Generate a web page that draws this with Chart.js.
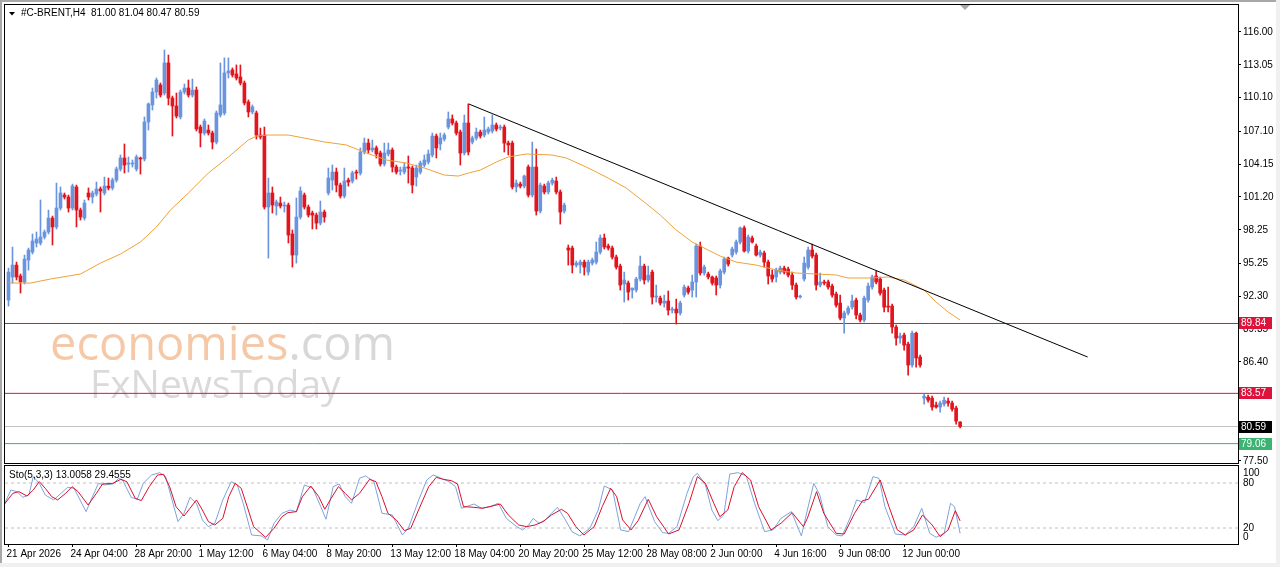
<!DOCTYPE html>
<html>
<head>
<meta charset="utf-8">
<script src="https://cdn.jsdelivr.net/npm/chart.js@4.4.1/dist/chart.umd.min.js"></script>
<style>
  html, body { margin: 0; padding: 0; background: #f0f0f0; }
  #wrap { position: relative; width: 1276px; height: 563px; background: #fff; overflow: hidden; }
  #edge { position: absolute; left: 0; top: 0; width: 1276px; height: 563px; box-sizing: border-box;
          border-top: 2px solid #a8a8a8; border-left: 2px solid #a8a8a8; pointer-events: none; }
  #main { position: absolute; left: 0; top: 0; }
  #sto { position: absolute; left: 0; top: 460px; }
</style>
</head>
<body>
<div id="wrap">
  <canvas id="main" width="1280" height="466"></canvas>
  <canvas id="sto" width="1280" height="107"></canvas>
  <div id="edge"></div>
</div>
<script>
// H4 candles, oldest first
const openP = [
  91.94, 94.01, 95.08, 94.10, 93.56, 95.53, 96.25, 97.06, 97.06, 97.60,
  98.05, 99.30, 98.50, 100.20, 101.37, 101.19, 100.20, 102.09, 100.02, 99.30,
  101.55, 101.19, 101.46, 101.91, 101.55, 102.17, 102.00, 102.71, 103.70, 104.69,
  104.15, 104.15, 103.70, 104.69, 104.60, 107.92, 109.45, 110.61, 111.24, 110.52,
  113.22, 110.07, 109.36, 108.37, 110.61, 110.97, 110.34, 110.79, 107.47, 106.93,
  107.20, 106.93, 106.12, 108.55, 108.73, 112.32, 112.59, 112.23, 111.96, 111.42,
  109.72, 108.82, 108.73, 106.75, 106.75, 100.29, 101.55, 100.38, 100.65, 100.38,
  100.47, 97.87, 95.98, 99.39, 101.37, 100.29, 99.75, 99.57, 98.85, 99.84,
  101.55, 102.71, 103.43, 102.26, 101.28, 102.71, 102.62, 103.43, 103.34, 105.23,
  106.03, 105.41, 105.59, 105.14, 104.15, 105.05, 105.41, 103.88, 103.52, 103.43,
  103.88, 103.79, 102.98, 103.43, 104.06, 104.33, 104.96, 106.66, 105.95, 106.39,
  107.47, 108.19, 107.83, 107.02, 105.14, 107.83, 106.12, 106.48, 107.02, 106.75,
  107.02, 107.11, 107.65, 107.38, 107.47, 106.03, 106.03, 102.09, 102.35, 102.17,
  103.88, 101.37, 103.88, 99.93, 102.17, 101.64, 102.44, 102.62, 101.64, 99.93,
  96.61, 96.61, 95.08, 95.08, 95.35, 94.45, 95.26, 95.35, 96.25, 97.51,
  96.79, 96.61, 95.80, 94.99, 93.38, 93.47, 92.84, 92.84, 93.83, 94.99,
  93.74, 94.45, 92.21, 92.12, 91.67, 91.85, 91.04, 91.13, 90.78, 92.39,
  93.02, 92.84, 93.56, 96.79, 94.37, 94.28, 94.01, 93.92, 93.29, 94.45,
  95.71, 95.98, 96.25, 97.15, 98.41, 96.34, 97.51, 96.79, 95.98, 96.16,
  95.35, 94.19, 94.01, 94.45, 94.81, 94.72, 94.18, 93.29, 92.21, 93.83,
  94.90, 96.43, 95.98, 93.29, 93.56, 93.56, 93.20, 92.48, 91.67, 90.33,
  90.78, 91.31, 91.94, 90.60, 90.15, 91.94, 93.11, 94.10, 93.83, 92.84,
  91.40, 91.40, 89.52, 88.53, 88.80, 87.99, 86.11, 88.97, 86.83, 83.14,
  83.23, 83.14, 82.52, 82.34, 82.61, 82.87, 82.70, 82.25, 81.00
];
const highP = [
  94.81, 96.70, 95.35, 94.28, 95.98, 96.61, 97.87, 98.05, 100.92, 98.23,
  100.02, 99.48, 102.44, 102.09, 101.55, 101.37, 102.35, 102.26, 100.20, 100.92,
  102.00, 101.73, 102.53, 102.09, 102.98, 102.89, 102.89, 103.88, 104.96, 105.95,
  104.78, 104.51, 104.96, 104.78, 108.37, 109.63, 110.97, 111.87, 111.42, 114.38,
  113.93, 110.25, 110.52, 110.79, 111.33, 111.69, 111.78, 111.06, 107.65, 108.19,
  107.65, 107.11, 108.91, 113.22, 113.67, 113.67, 112.77, 113.04, 113.04, 111.60,
  109.90, 109.45, 108.91, 107.38, 107.47, 102.89, 102.09, 100.92, 101.19, 100.74,
  100.65, 98.23, 101.10, 102.09, 101.55, 100.47, 99.93, 99.75, 100.83, 100.02,
  103.79, 104.06, 103.79, 102.44, 103.79, 102.89, 103.52, 103.61, 105.59, 106.48,
  106.39, 106.30, 105.77, 105.32, 106.03, 106.03, 105.59, 104.06, 103.88, 104.24,
  104.87, 103.97, 104.06, 104.42, 104.96, 105.41, 106.93, 106.84, 106.93, 106.93,
  108.82, 108.55, 108.01, 107.20, 108.55, 109.54, 106.66, 107.38, 107.20, 108.37,
  107.47, 108.55, 107.83, 107.65, 107.65, 106.21, 106.21, 102.71, 102.53, 103.16,
  104.06, 106.12, 105.50, 102.44, 102.35, 102.62, 102.89, 102.98, 101.82, 100.65,
  96.88, 96.79, 95.44, 95.53, 95.53, 95.53, 95.71, 97.15, 97.78, 97.87,
  96.97, 96.79, 95.98, 95.17, 94.45, 93.65, 93.02, 93.99, 95.89, 95.17,
  94.99, 94.63, 93.29, 92.30, 92.39, 92.75, 91.31, 92.03, 91.85, 93.29,
  93.20, 94.18, 96.97, 97.15, 95.08, 94.45, 94.10, 94.10, 94.72, 95.80,
  95.80, 96.70, 97.33, 98.50, 98.59, 97.78, 97.69, 96.97, 96.43, 96.34,
  95.53, 94.63, 94.81, 94.99, 94.99, 94.90, 94.45, 93.47, 92.39, 95.80,
  96.70, 96.97, 96.16, 94.37, 93.74, 93.74, 93.38, 92.66, 92.39, 90.96,
  91.40, 92.39, 92.12, 90.78, 92.30, 93.47, 94.18, 94.54, 94.01, 93.02,
  93.11, 91.58, 89.70, 88.97, 88.97, 88.17, 89.16, 89.07, 87.00, 83.50,
  83.41, 83.32, 82.78, 82.87, 83.23, 83.14, 82.87, 82.43, 81.04
];
const lowP = [
  91.40, 93.47, 93.74, 92.57, 93.38, 94.63, 96.07, 96.70, 96.88, 97.42,
  97.87, 96.88, 98.32, 100.02, 101.01, 99.84, 100.02, 98.50, 99.12, 99.12,
  100.92, 100.65, 101.28, 99.84, 101.37, 101.82, 101.82, 102.53, 103.52, 103.34,
  103.43, 103.88, 103.52, 103.25, 104.42, 107.20, 109.00, 110.07, 110.16, 110.34,
  109.45, 106.66, 108.28, 108.19, 110.43, 110.16, 110.16, 107.11, 105.68, 106.75,
  106.75, 105.50, 105.95, 108.37, 108.55, 111.87, 111.96, 111.69, 111.24, 109.45,
  108.37, 108.64, 106.39, 106.39, 100.11, 95.71, 99.75, 99.57, 100.20, 99.84,
  97.06, 94.90, 95.26, 99.21, 100.11, 99.39, 98.32, 98.32, 98.68, 98.94,
  101.37, 101.82, 101.64, 101.10, 101.10, 102.17, 102.44, 102.80, 103.16, 105.05,
  105.14, 105.23, 104.69, 103.97, 103.97, 104.87, 103.43, 103.25, 103.16, 103.25,
  102.44, 101.55, 102.17, 103.25, 103.88, 104.15, 104.78, 104.69, 105.41, 106.21,
  107.29, 107.65, 106.75, 104.06, 104.96, 104.96, 105.95, 106.30, 106.48, 106.57,
  106.84, 106.93, 107.11, 107.20, 105.23, 104.96, 101.91, 101.64, 102.00, 102.00,
  101.19, 101.19, 99.57, 99.75, 101.46, 101.46, 102.26, 101.46, 98.76, 99.75,
  95.08, 94.37, 94.90, 94.37, 94.18, 94.18, 95.08, 95.17, 96.07, 96.52,
  96.43, 95.62, 94.72, 92.84, 91.76, 91.94, 92.12, 92.66, 93.65, 93.38,
  93.56, 91.58, 91.76, 91.49, 91.31, 90.60, 90.78, 89.79, 90.60, 92.21,
  92.48, 92.21, 92.21, 94.18, 94.18, 93.83, 93.29, 92.39, 93.02, 94.28,
  94.99, 95.80, 96.07, 96.97, 96.25, 96.16, 97.06, 95.89, 95.80, 94.90,
  93.38, 93.56, 93.56, 94.28, 94.28, 94.01, 92.89, 92.03, 92.12, 93.65,
  94.72, 95.71, 92.84, 93.11, 93.29, 92.93, 92.21, 91.31, 90.15, 88.97,
  90.60, 91.13, 90.24, 89.97, 89.97, 91.76, 92.93, 93.38, 92.39, 90.87,
  90.87, 88.97, 87.90, 88.08, 87.45, 85.21, 85.93, 85.93, 85.93, 82.61,
  82.78, 82.07, 82.25, 81.89, 82.43, 82.43, 81.98, 80.81, 80.47
];
const closeP = [
  94.45, 95.08, 94.01, 93.56, 95.62, 96.43, 97.24, 97.42, 97.60, 98.05,
  99.30, 98.50, 100.20, 101.55, 101.19, 100.20, 102.17, 100.02, 99.39, 100.65,
  101.19, 101.55, 101.91, 101.73, 102.17, 102.00, 102.71, 103.70, 104.69, 104.06,
  104.24, 104.24, 104.78, 104.60, 107.92, 109.54, 110.61, 111.69, 110.34, 113.22,
  110.07, 109.36, 108.46, 110.61, 110.97, 110.34, 110.79, 107.29, 106.93, 108.01,
  106.93, 106.12, 108.73, 109.45, 112.32, 112.50, 112.14, 111.87, 111.42, 109.63,
  108.82, 109.27, 106.75, 106.57, 100.29, 101.55, 100.47, 100.74, 100.38, 100.47,
  97.78, 95.98, 99.39, 101.73, 100.29, 99.57, 99.57, 98.85, 99.84, 99.39,
  102.89, 103.43, 102.26, 101.28, 102.62, 102.53, 103.34, 103.34, 105.23, 106.03,
  105.41, 105.59, 105.05, 104.15, 105.14, 105.41, 103.88, 103.43, 103.61, 103.88,
  103.79, 102.26, 103.79, 104.24, 104.51, 105.05, 106.66, 105.59, 106.48, 106.75,
  108.19, 107.83, 106.93, 105.14, 107.83, 105.23, 106.48, 107.02, 106.66, 107.20,
  107.29, 107.65, 107.29, 107.47, 106.03, 105.86, 102.09, 102.44, 102.17, 103.07,
  101.37, 103.88, 99.93, 102.26, 101.64, 102.44, 102.71, 101.64, 99.84, 100.47,
  96.43, 95.08, 95.26, 95.35, 94.90, 95.35, 95.53, 96.25, 97.51, 96.70,
  96.61, 95.80, 94.90, 93.29, 93.74, 92.66, 93.02, 93.83, 94.99, 93.74,
  94.18, 92.21, 92.30, 91.67, 91.85, 91.04, 91.13, 90.78, 91.67, 93.11,
  92.66, 93.56, 96.79, 94.37, 94.90, 94.01, 93.47, 93.29, 94.54, 95.62,
  95.17, 96.52, 97.15, 98.41, 96.34, 97.60, 97.15, 95.98, 96.25, 95.35,
  94.10, 93.83, 94.63, 94.81, 94.45, 94.18, 93.29, 92.21, 92.30, 95.26,
  96.43, 95.89, 93.29, 93.56, 93.47, 93.11, 92.39, 91.49, 90.33, 90.78,
  91.22, 91.85, 90.60, 90.15, 92.12, 93.20, 94.01, 93.56, 92.57, 91.31,
  91.31, 89.52, 88.53, 88.71, 87.90, 86.11, 88.97, 86.74, 86.11, 83.32,
  82.96, 82.34, 82.34, 82.70, 82.96, 82.70, 82.16, 81.08, 80.59
];

// moving average: [bar index, price]
const maLine = [
  [0, 93.47], [5.5, 93.47], [10.5, 93.83], [18, 94.28], [23, 95.26], [28, 96.07], [33, 97.15],
  [37, 98.50], [40.5, 100.02], [45, 101.55], [50, 103.34], [55, 104.78], [60, 106.31], [62, 106.66],
  [65, 106.75], [70, 106.75], [74, 106.48], [79, 106.13], [84.5, 105.86], [89.5, 105.14],
  [94.5, 104.51], [99.5, 104.24], [104, 103.79], [109, 103.16], [112.5, 103.07], [115, 103.34],
  [118, 103.61], [122, 104.33], [125, 104.78], [129.5, 105.05], [136, 104.96], [139.5, 104.69],
  [144.5, 103.88], [150, 102.89], [154.5, 101.99], [159, 100.74], [163, 99.57], [167, 98.23],
  [171, 97.15], [175, 96.43], [178, 95.89], [182, 95.35], [187, 95.08], [192, 94.64], [197, 94.37],
  [202, 94.28], [207, 94.19], [210, 93.92], [215, 93.92], [220, 94.01], [224, 93.74], [229, 92.84],
  [232, 91.76], [235, 90.87], [238, 90.15]
];

// descending trend line: [bar index, price]
const trendLine = [[115.1, 109.54], [269.9, 86.83]];

// horizontal levels
const levelValues = [89.84, 83.57, 80.59, 79.06];
const levelLabels = ['89.84', '83.57', '80.59', '79.06'];
const levelColors = ['#dc143c', '#dc143c', '#c0c0c0', '#3cb371'];
const levelBoxColors = ['#dc143c', '#dc143c', '#000000', '#3cb371'];

const priceTicks = [116.00, 113.05, 110.10, 107.10, 104.15, 101.20, 98.25, 95.25, 92.30, 89.35, 86.40, 77.50];

// Stochastic(5,3,3): [bar index, value]
const stochK = [
  [-1, 52], [0.6, 70.7], [2.1, 68.5], [3.6, 60.9], [5.1, 64.0], [6.2, 88.5], [7.7, 79.6], [9.2, 64.0],
  [11.3, 57.4], [13.3, 67.1], [14.8, 74.3], [16.4, 72.9], [19.4, 41.8], [21.0, 61.8], [22.5, 79.6],
  [24.0, 77.4], [26.1, 78.7], [27.6, 86.3], [28.6, 83.1], [30.7, 60.9], [32.2, 58.3], [33.7, 79.6],
  [35.8, 90.7], [37.8, 93.8], [39.3, 88.5], [40.9, 57.4], [42.4, 28.5], [43.9, 39.6], [45.4, 60.9],
  [47.0, 52.9], [48.5, 30.7], [50.0, 21.8], [51.6, 26.3], [53.6, 57.4], [55.7, 81.8], [57.2, 77.4],
  [58.7, 52.9], [60.8, 10.7], [63.3, 9.4], [64.8, 4.0], [66.4, 26.3], [68.4, 39.6], [70.4, 44.0],
  [72.0, 41.8], [74.0, 77.4], [76.1, 72.9], [78.1, 48.5], [79.4, 31.6], [81.2, 75.1], [82.7, 78.7],
  [84.2, 61.8], [85.8, 52.9], [87.8, 86.3], [89.3, 89.4], [91.4, 81.8], [93.4, 39.6], [96.0, 37.4],
  [98.5, 10.7], [100.0, 19.6], [102.6, 57.4], [104.6, 84.0], [106.2, 90.7], [108.2, 86.3],
  [110.2, 81.8], [111.8, 75.1], [113.3, 46.3], [116.4, 52.0], [118.4, 46.3], [120.4, 48.5],
  [122.5, 52.9], [124.5, 32.9], [127.1, 21.8], [128.6, 17.4], [130.1, 24.0], [131.2, 32.9],
  [132.7, 26.3], [134.2, 30.7], [135.8, 39.6], [137.3, 47.6], [139.3, 30.7], [140.9, 15.2],
  [142.9, 9.4], [145.4, 19.6], [147.5, 44.0], [149.0, 76.0], [151.1, 70.7], [153.1, 17.4],
  [155.1, 15.2], [158.0, 52.9], [159.2, 61.8], [161.6, 28.5], [163.6, 13.8], [165.1, 12.9],
  [167.2, 21.8], [169.7, 66.3], [171.3, 88.5], [172.3, 92.9], [174.3, 77.4], [175.9, 44.0],
  [177.4, 29.8], [178.9, 37.4], [180.4, 92.0], [182.5, 93.8], [184.5, 89.4], [186.6, 52.9],
  [189.1, 15.2], [191.2, 17.4], [193.2, 32.9], [195.8, 41.8], [198.3, 9.4], [199.8, 44.0],
  [201.4, 79.6], [202.9, 64.0], [204.9, 21.8], [207.0, 10.7], [208.5, 9.4], [210.6, 35.1],
  [212.1, 57.4], [214.1, 53.8], [216.2, 88.5], [217.7, 86.3], [219.2, 48.5], [221.8, 12.0],
  [224.3, 10.7], [226.4, 21.8], [228.4, 46.3], [230.4, 12.9], [232.0, 7.6], [234.0, 12.9],
  [235.6, 52.9], [236.6, 48.5], [238, 13.0]
];
const stochD = [
  [-1, 52], [1.1, 66.3], [2.6, 68.5], [4.6, 62.7], [6.2, 70.7], [7.7, 81.8], [9.2, 72.9], [10.8, 61.8],
  [12.3, 57.4], [14.3, 66.3], [15.9, 75.1], [17.4, 68.5], [19.9, 50.7], [22.0, 66.3], [23.5, 78.7],
  [26.1, 79.6], [28.1, 84.9], [29.6, 81.8], [31.7, 59.6], [33.2, 56.5], [35.2, 75.1], [37.3, 90.7],
  [38.8, 91.6], [40.3, 75.1], [41.9, 48.5], [43.9, 36.0], [45.4, 46.3], [47.0, 57.4], [48.5, 44.0],
  [50.0, 28.5], [51.6, 24.0], [53.6, 32.9], [55.1, 61.8], [56.7, 79.6], [58.2, 72.9], [59.7, 48.5],
  [61.3, 21.8], [64.3, 7.6], [66.4, 19.6], [68.4, 35.1], [69.9, 40.5], [72.0, 41.8], [73.5, 61.8],
  [75.6, 76.0], [77.6, 61.8], [79.1, 44.9], [80.7, 59.6], [82.5, 75.1], [84.2, 66.3], [85.8, 57.4],
  [87.8, 66.3], [90.3, 84.9], [91.9, 81.8], [93.4, 61.8], [94.9, 39.6], [97.0, 30.7], [99.0, 16.5],
  [100.6, 19.6], [103.1, 50.7], [105.1, 75.1], [107.0, 87.6], [108.7, 84.9], [110.8, 83.1],
  [112.3, 78.7], [113.8, 48.5], [116.4, 47.6], [118.4, 46.3], [120.4, 48.5], [123.0, 52.0],
  [125.0, 37.4], [127.6, 24.0], [129.6, 21.8], [131.7, 24.0], [133.7, 28.5], [135.8, 37.4],
  [138.3, 44.9], [139.8, 39.6], [141.9, 21.8], [143.9, 10.7], [146.5, 21.8], [148.5, 48.5],
  [150.6, 72.9], [152.1, 61.8], [153.6, 30.7], [155.7, 17.4], [157.5, 30.0], [160.0, 58.3],
  [162.1, 35.1], [165.1, 12.0], [167.7, 17.4], [170.2, 52.9], [172.3, 88.5], [174.3, 79.6],
  [176.4, 52.9], [177.9, 35.1], [179.9, 44.0], [181.5, 75.1], [183.5, 93.8], [185.6, 84.0],
  [187.6, 48.5], [190.7, 17.4], [193.2, 26.3], [196.0, 40.5], [198.8, 21.8], [199.8, 32.9],
  [202.1, 68.5], [203.9, 39.6], [207.0, 12.9], [209.0, 12.0], [211.6, 39.6], [213.6, 56.5],
  [215.1, 58.3], [218.0, 84.0], [220.2, 48.5], [222.3, 17.4], [224.3, 10.7], [226.4, 17.4],
  [228.6, 37.4], [231.0, 24.0], [233.0, 8.5], [235.0, 17.4], [236.8, 43.1], [238, 29.5]
];
const stochLevels = [20, 80];
const stochScale = [100, 80, 20, 0];

// time axis: one label every 16 bars
const timeLabels = ['21 Apr 2026', '24 Apr 04:00', '28 Apr 20:00', '1 May 12:00', '6 May 04:00',
  '8 May 20:00', '13 May 12:00', '18 May 04:00', '20 May 20:00', '25 May 12:00', '28 May 08:00',
  '2 Jun 00:00', '4 Jun 16:00', '9 Jun 08:00', '12 Jun 00:00'];
const timeLabelBars = [0, 16, 32, 48, 64, 80, 96, 112, 128, 144, 160, 176, 192, 208, 224];

const BULL = '#6a95de';
const BEAR = '#e3141c';
const MA_COLOR = '#eea136';
const K_COLOR = '#7ea3dd';
const D_COLOR = '#d8102c';
const FONT = '"Liberation Sans", Arial, sans-serif';

const X_MIN = -0.875, X_MAX = 307.5;   // same bar range on both panels
const bars = openP.map((_, i) => i);
const candleColors = bars.map(i => closeP[i] >= openP[i] ? BULL : BEAR);
const toPts = arr => arr.map(([x, y]) => ({ x, y }));

const mainDecor = {
  id: 'mainDecor',
  beforeDatasetsDraw(chart) {
    const ctx = chart.ctx;
    ctx.save();
    ctx.textBaseline = 'alphabetic';
    ctx.font = '47px "Open Sans"';
    ctx.fillStyle = '#f5c9a8';
    ctx.fillText('economies', 50, 360);
    const w = ctx.measureText('economies').width;
    ctx.fillStyle = '#d8d8d8';
    ctx.fillText('.com', 50 + w, 360);
    ctx.font = '39px "Open Sans"';
    ctx.fillStyle = '#dadada';
    ctx.fillText('FxNewsToday', 90, 398);
    ctx.restore();
  },
  afterDraw(chart) {
    const { ctx, chartArea: a } = chart;
    const y = chart.scales.y;
    ctx.save();
    ctx.strokeStyle = '#000';
    ctx.lineWidth = 1;
    ctx.strokeRect(a.left - 0.5, a.top - 0.5, a.right - a.left + 1, a.bottom - a.top + 1);

    // title
    ctx.fillStyle = '#000';
    ctx.beginPath();
    ctx.moveTo(9, 12); ctx.lineTo(15, 12); ctx.lineTo(12, 15.5); ctx.closePath();
    ctx.fill();
    ctx.font = '10px ' + FONT;
    ctx.textBaseline = 'alphabetic';
    ctx.fillText('#C-BRENT,H4  81.00 81.04 80.47 80.59', 21, 16);

    // shift marker
    ctx.fillStyle = '#a8a8a8';
    ctx.beginPath();
    ctx.moveTo(960, 5); ctx.lineTo(970, 5); ctx.lineTo(965, 10); ctx.closePath();
    ctx.fill();

    // level price tags
    ctx.textBaseline = 'middle';
    levelValues.forEach((v, k) => {
      const py = Math.round(y.getPixelForValue(v));
      ctx.fillStyle = levelBoxColors[k];
      ctx.fillRect(a.right + 1, py - 6, 33, 12);
      ctx.fillStyle = '#fff';
      ctx.fillText(levelLabels[k], a.right + 3, py + 0.5);
    });
    ctx.restore();
  }
};

const stoDecor = {
  id: 'stoDecor',
  afterDraw(chart) {
    const { ctx, chartArea: a } = chart;
    const y = chart.scales.y;
    ctx.save();
    ctx.strokeStyle = '#000';
    ctx.lineWidth = 1;
    ctx.strokeRect(a.left - 0.5, a.top - 0.5, a.right - a.left + 1, a.bottom - a.top + 1);
    ctx.fillStyle = '#000';
    ctx.font = '10px ' + FONT;
    ctx.textBaseline = 'alphabetic';
    ctx.fillText('Sto(5,3,3) 13.0058 29.4555', 9, 18);
    ctx.textBaseline = 'middle';
    stochScale.forEach(v => {
      const py = Math.min(Math.max(y.getPixelForValue(v), a.top + 7), a.bottom - 7);
      ctx.fillText(String(v), a.right + 5, py);
    });
    ctx.restore();
  }
};

new Chart(document.getElementById('main'), {
  type: 'bar',
  data: {
    datasets: [
      ...levelValues.map((v, k) => ({
        type: 'line',
        data: [{ x: X_MIN, y: v }, { x: X_MAX, y: v }],
        borderColor: levelColors[k],
        borderWidth: 1,
        pointRadius: 0,
        order: 10
      })),
      {
        type: 'bar',
        data: bars.map(i => ({ x: i, y: [lowP[i], highP[i]] })),
        backgroundColor: candleColors,
        barThickness: 1,
        grouped: false,
        order: 6
      },
      {
        type: 'bar',
        data: bars.map(i => ({ x: i, y: [openP[i], closeP[i]] })),
        backgroundColor: candleColors,
        barThickness: 3,
        minBarLength: 1,
        grouped: false,
        order: 5
      },
      {
        type: 'line',
        data: toPts(maLine),
        borderColor: MA_COLOR,
        borderWidth: 1,
        pointRadius: 0,
        order: 3
      },
      {
        type: 'line',
        data: toPts(trendLine),
        borderColor: '#000',
        borderWidth: 1,
        pointRadius: 0,
        order: 2
      }
    ]
  },
  options: {
    responsive: false,
    animation: false,
    events: [],
    layout: { autoPadding: false, padding: { left: 5, top: 5, right: 0, bottom: 3 } },
    plugins: { legend: { display: false }, tooltip: { enabled: false } },
    scales: {
      x: { type: 'linear', min: X_MIN, max: X_MAX, offset: false, display: false },
      y: {
        position: 'right',
        min: 77.32,
        max: 118.42,
        afterBuildTicks: s => { s.ticks = priceTicks.map(v => ({ value: v })); },
        afterFit: s => { s.width = 42; s.paddingTop = 0; s.paddingBottom = 0; },
        ticks: { callback: v => v.toFixed(2), color: '#000', font: { family: FONT, size: 10 }, padding: 2 },
        grid: { drawOnChartArea: false, drawTicks: true, tickLength: 3, color: '#000' },
        border: { display: false }
      }
    }
  },
  plugins: [mainDecor]
});

new Chart(document.getElementById('sto'), {
  type: 'line',
  data: {
    datasets: [
      ...stochLevels.map(v => ({
        data: [{ x: X_MIN, y: v }, { x: X_MAX, y: v }],
        borderColor: '#c0c0c0',
        borderWidth: 1,
        borderDash: [3, 3],
        pointRadius: 0,
        order: 10
      })),
      { data: toPts(stochK), borderColor: K_COLOR, borderWidth: 1, pointRadius: 0, order: 3 },
      { data: toPts(stochD), borderColor: D_COLOR, borderWidth: 1, pointRadius: 0, order: 2 }
    ]
  },
  options: {
    responsive: false,
    animation: false,
    events: [],
    layout: { autoPadding: false, padding: { left: 5, top: 6, right: 0, bottom: 0 } },
    plugins: { legend: { display: false }, tooltip: { enabled: false } },
    scales: {
      x: {
        type: 'linear',
        min: X_MIN,
        max: X_MAX,
        offset: false,
        afterBuildTicks: s => { s.ticks = timeLabelBars.map(v => ({ value: v })); },
        afterFit: s => { s.height = 23; s.paddingLeft = 0; s.paddingRight = 0; },
        ticks: {
          autoSkip: false, maxRotation: 0, minRotation: 0, align: 'start', labelOffset: -2, padding: 1,
          color: '#000', font: { family: FONT, size: 10 },
          callback: (v, k) => timeLabels[k]
        },
        grid: { drawOnChartArea: false, drawTicks: true, tickLength: 3, color: '#000' },
        border: { display: false }
      },
      y: {
        position: 'right',
        min: -1.33,
        max: 102.67,
        afterFit: s => { s.width = 42; s.paddingTop = 0; s.paddingBottom = 0; },
        ticks: { display: false },
        grid: { display: false },
        border: { display: false }
      }
    }
  },
  plugins: [stoDecor]
});
</script>
</body>
</html>
